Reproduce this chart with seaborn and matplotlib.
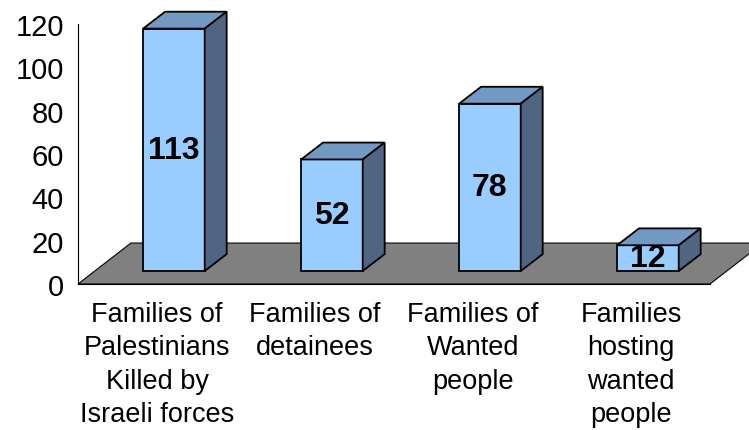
import matplotlib
matplotlib.use("Agg")
import matplotlib.pyplot as plt
import seaborn as sns
from matplotlib.patches import Polygon

# Values
categories = ["Families of\nPalestinians\nKilled by\nIsraeli forces",
              "Families of\ndetainees",
              "Families of\nWanted\npeople",
              "Families\nhosting\nwanted\npeople"]
values = [113, 52, 78, 12]
yticks = [0, 20, 40, 60, 80, 100, 120]

sns.set_style("white")
plt.rcParams['font.family'] = ['Liberation Sans', 'DejaVu Sans']
plt.rcParams['text.color'] = 'black'
plt.rcParams['xtick.color'] = 'black'
plt.rcParams['ytick.color'] = 'black'

front_color = "#99CCFF"
top_color = "#7199C1"
side_color = "#4F6582"

fig = plt.figure(figsize=(7.49, 4.31), dpi=100)
ax = fig.add_axes([78 / 749, (431 - 285) / 431, (710 - 78) / 749, (285 - 25) / 431])

sns.barplot(x=categories, y=values, color=front_color, saturation=1,
            edgecolor="black", linewidth=1.3, width=0.39, ax=ax, zorder=3)

ax.set_xlim(-0.5, 3.5)
ax.set_ylim(0, 120)

# pseudo 3D: floor depth and bar depth (data units)
floor_dx, floor_dy = 0.335, 18.9
bar_dx, bar_dy = 0.139, 7.8
shift_x, shift_y = 0.107, 6.0

floor = Polygon([(-0.5, 0), (3.5, 0), (3.5 + floor_dx, floor_dy), (-0.5 + floor_dx, floor_dy)],
                closed=True, facecolor="#808080", edgecolor="black", linewidth=0.8,
                zorder=1, clip_on=False)
ax.add_patch(floor)

for p in list(ax.patches):
    if p is floor:
        continue
    p.set_x(p.get_x() + shift_x)
    p.set_y(shift_y)
    p.set_height(p.get_height() * 0.99)
    p.set_clip_on(False)
    x0, y0, w, h = p.get_x(), p.get_y(), p.get_width(), p.get_height()
    top = Polygon([(x0, y0 + h), (x0 + w, y0 + h), (x0 + w + bar_dx, y0 + h + bar_dy),
                   (x0 + bar_dx, y0 + h + bar_dy)], closed=True, facecolor=top_color,
                  edgecolor="black", linewidth=1.3, zorder=3, clip_on=False)
    side = Polygon([(x0 + w, y0), (x0 + w + bar_dx, y0 + bar_dy), (x0 + w + bar_dx, y0 + h + bar_dy),
                    (x0 + w, y0 + h)], closed=True, facecolor=side_color,
                   edgecolor="black", linewidth=1.3, zorder=3, clip_on=False)
    ax.add_patch(top)
    ax.add_patch(side)

ax.bar_label(ax.containers[0], labels=[str(v) for v in values], label_type="center",
             fontsize=23, fontweight="bold", color="black", zorder=5)

ax.set_yticks(yticks)
ax.set_yticklabels([str(t) for t in yticks], fontsize=21)
ax.set_xticks(range(len(categories)))
ax.set_xticklabels(categories, fontsize=19.5, linespacing=1.38)
ax.set_xticks([-0.5, 0.5, 1.5, 2.5, 3.5], minor=True)
ax.tick_params(axis="x", which="major", length=0, pad=12, labelcolor="black")
ax.tick_params(axis="x", which="minor", length=7, width=0.8, direction="out", color="black")
ax.tick_params(axis="y", length=6, width=0.8, direction="out", color="black", pad=4,
               labelcolor="black")
ax.set_xlabel("")
ax.set_ylabel("")

sns.despine(ax=ax, top=True, right=True)
ax.spines["left"].set_color("black")
ax.spines["left"].set_linewidth(0.8)
ax.spines["bottom"].set_color("black")
ax.spines["bottom"].set_linewidth(0.8)

fig.savefig("out.png", dpi=100)
